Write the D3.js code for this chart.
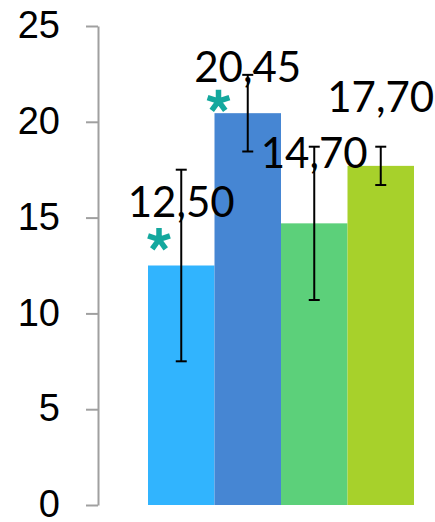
<!DOCTYPE html>
<html>
<head>
<meta charset="utf-8">
<script src="https://cdn.jsdelivr.net/npm/d3@7"></script>
<style>
  html, body { margin: 0; padding: 0; background: #fff; }
  svg { display: block; }
</style>
</head>
<body>
<svg id="chart" width="435" height="522"></svg>
<script>
// Data
const categories = ["A", "B", "C", "D"];
const values = [12.50, 20.45, 14.70, 17.70];
const errors = [5.0, 2.0, 4.0, 1.0];
const valueLabels = ["12,50", "20,45", "14,70", "17,70"];
const significant = [true, true, false, false];
const yTicks = [0, 5, 10, 15, 20, 25];

// Styling / layout
const barColors = ["#31B4FE", "#4686D3", "#5CD07A", "#A7D12B"];
const starColor = "#14A89E";
const labelLift = [49, 31, 55, 54];        // label baseline above bar top (px)
const starOffset = [[11, -26], [4, -12]];  // asterisk centre relative to bar left/top (px)

const svg = d3.select("#chart");

const y = d3.scaleLinear().domain([0, 25]).range([505, 26]);
const x = d3.scaleBand().domain(categories).range([148, 414]).padding(0);

// Bars
svg.append("g")
  .selectAll("rect")
  .data(categories)
  .join("rect")
  .attr("x", d => x(d))
  .attr("width", x.bandwidth())
  .attr("y", (d, i) => y(values[i]))
  .attr("height", (d, i) => y(0) - y(values[i]))
  .attr("fill", (d, i) => barColors[i]);

// Error bars
const capHalf = 5.5;
const eg = svg.append("g").attr("stroke", "#000").attr("stroke-width", 2);
categories.forEach((c, i) => {
  const cx = x(c) + x.bandwidth() / 2;
  const hi = y(values[i] + errors[i]);
  const lo = y(values[i] - errors[i]);
  eg.append("line").attr("x1", cx).attr("x2", cx).attr("y1", hi).attr("y2", lo);
  eg.append("line").attr("x1", cx - capHalf).attr("x2", cx + capHalf).attr("y1", hi).attr("y2", hi);
  eg.append("line").attr("x1", cx - capHalf).attr("x2", cx + capHalf).attr("y1", lo).attr("y2", lo);
});

// Y axis
const axis = d3.axisLeft(y).tickValues(yTicks).tickSize(12).tickSizeOuter(0).tickPadding(26)
  .tickFormat(d3.format("d"));
const ag = svg.append("g").attr("transform", "translate(98,0)").call(axis);
ag.select(".domain").attr("stroke", "#A0A0A0").attr("stroke-width", 2);
ag.selectAll(".tick line").attr("stroke", "#A0A0A0").attr("stroke-width", 2);
ag.selectAll(".tick text")
  .attr("fill", "#000")
  .attr("font-family", "'Liberation Sans', Arial, sans-serif")
  .attr("font-size", 38)
  .attr("dy", "0.31em");

// Value labels
svg.append("g")
  .selectAll("text")
  .data(categories)
  .join("text")
  .attr("x", d => x(d) + x.bandwidth() / 2)
  .attr("y", (d, i) => y(values[i]) - labelLift[i])
  .attr("text-anchor", "middle")
  .attr("font-family", "Lato, 'Open Sans', sans-serif")
  .attr("font-size", 42)
  .attr("fill", "#000")
  .text((d, i) => valueLabels[i]);

// Significance asterisks: five thick spokes
function asteriskPath(len, w) {
  const p = d3.path();
  for (let k = 0; k < 5; k++) {
    const a = -Math.PI / 2 + k * 2 * Math.PI / 5;
    const ux = Math.cos(a), uy = Math.sin(a);
    const nx = -uy * w / 2, ny = ux * w / 2;
    p.moveTo(nx, ny);
    p.lineTo(ux * len + nx, uy * len + ny);
    p.lineTo(ux * len - nx, uy * len - ny);
    p.lineTo(-nx, -ny);
    p.closePath();
  }
  return p.toString();
}
const star = asteriskPath(11.5, 5.5);
let sIdx = 0;
categories.forEach((c, i) => {
  if (!significant[i]) return;
  const off = starOffset[sIdx++];
  svg.append("path")
    .attr("d", star)
    .attr("fill", starColor)
    .attr("transform", `translate(${x(c) + off[0]},${y(values[i]) + off[1]})`);
});
</script>
</body>
</html>
